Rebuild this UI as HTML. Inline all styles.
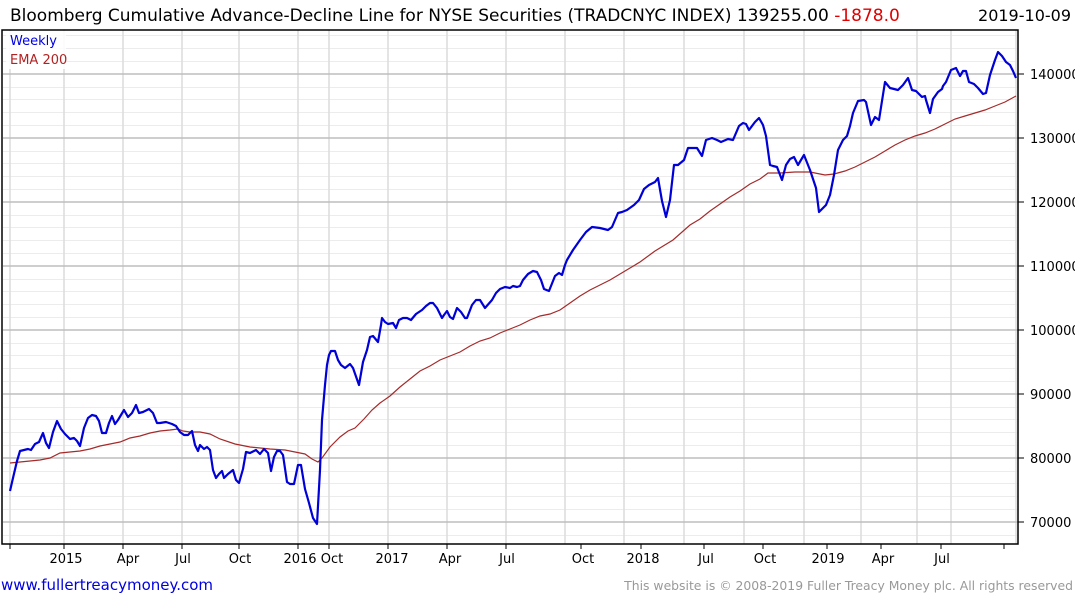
<!DOCTYPE html>
<html><head><meta charset="utf-8"><style>
body{margin:0;background:#fff;width:1075px;height:600px;overflow:hidden;font-family:"DejaVu Sans","Liberation Sans",sans-serif}
</style></head><body>
<svg width="1075" height="600" xmlns="http://www.w3.org/2000/svg" font-family="DejaVu Sans, Liberation Sans, sans-serif">
<rect width="1075" height="600" fill="#fff"/>
<g stroke="#ececec" stroke-width="1">
<path d="M3 48.5H1018M3 61.5H1018M3 87.5H1018M3 99.5H1018M3 112.5H1018M3 125.5H1018M3 151.5H1018M3 163.5H1018M3 176.5H1018M3 189.5H1018M3 215.5H1018M3 227.5H1018M3 240.5H1018M3 253.5H1018M3 279.5H1018M3 291.5H1018M3 304.5H1018M3 317.5H1018M3 343.5H1018M3 355.5H1018M3 368.5H1018M3 381.5H1018M3 407.5H1018M3 419.5H1018M3 432.5H1018M3 445.5H1018M3 471.5H1018M3 483.5H1018M3 496.5H1018M3 509.5H1018M3 535.5H1018M3 35.5H1018"/>
</g>
<g stroke="#dcdcdc" stroke-width="1.5">
<path d="M10 30V544M64 30V544M123 30V544M182 30V544M239 30V544M298 30V544M329 30V544M388 30V544M447 30V544M506 30V544M565 30V544M624 30V544M684 30V544M744 30V544M804 30V544M861 30V544M917 30V544M951 30V544M1016 30V544"/>
</g>
<g stroke="#bdbdbd" stroke-width="1.5">
<path d="M3 74H1018M3 138H1018M3 202H1018M3 266H1018M3 330H1018M3 394H1018M3 458H1018M3 522H1018"/>
</g>
<rect x="2" y="30" width="1016" height="514" fill="none" stroke="#000" stroke-width="1.5"/>
<g stroke="#000" stroke-width="1">
<path d="M10 544v5M64 544v5M123 544v5M182 544v5M239 544v5M298 544v5M329 544v5M388 544v5M447 544v5M506 544v5M581 544v5M641 544v5M704 544v5M763 544v5M827 544v5M881 544v5M941 544v5M1004 544v5"/>
<path d="M1018 74h6M1018 138h6M1018 202h6M1018 266h6M1018 330h6M1018 394h6M1018 458h6M1018 522h6"/>
</g>
<polyline fill="none" stroke="#a52a2a" stroke-width="1.2" points="10,463 20,462 30,461 40,460 50,458 60,453 70,452 80,451 90,449 100,446 110,444 120,442 130,438 140,436 150,433 160,431 170,430 178,429 183,431 190,432 200,432 210,434 220,439 235,444 250,447 270,449 285,450 295,452 305,454 312,459 318,462 322,458 330,447 340,437 348,431 355,428 364,419 372,410 380,403 390,396 400,387 410,379 420,371 430,366 440,360 450,356 460,352 470,346 480,341 490,338 500,333 510,329 520,325 530,320 540,316 550,314 560,310 570,303 580,296 590,290 600,285 610,280 620,274 640,262 655,251 673,240 690,225 700,219 710,211 720,204 730,197 740,191 750,184 760,179 768,173 780,173 795,172 810,172 820,174 825,175 834,174 845,171 855,167 865,162 875,157 885,151 895,145 905,140 915,136 925,133 935,129 945,124 955,119 965,116 975,113 985,110 995,106 1005,102 1016,96"/>
<polyline fill="none" stroke="#0000d8" stroke-width="2.2" stroke-linejoin="round" points="10,491 13,478 17,461 20,451 24,450 28,449 31,450 35,444 39,442 43,433 46,443 49,448 53,432 57,421 61,429 65,434 70,439 74,438 77,441 80,446 84,428 88,418 92,415 96,416 99,421 102,433 106,433 109,423 112,416 115,424 118,420 124,410 128,417 132,413 136,405 139,413 143,412 149,409 153,413 157,423 160,423 166,422 172,424 176,426 180,432 184,435 188,435 192,431 195,445 198,451 200,445 204,449 207,447 210,450 213,470 216,478 219,474 222,471 224,478 228,474 233,470 236,480 239,483 243,469 246,452 250,453 256,450 260,454 264,449 268,453 271,471 274,457 277,451 280,451 283,455 287,482 290,484 294,484 298,465 301,465 305,489 309,503 313,518 317,524 320,470 322,420 325,385 327,365 329,355 331,351 335,351 338,360 341,365 345,368 350,364 353,368 359,385 363,362 367,350 370,337 373,336 378,342 381,325 382,318 385,322 388,324 393,323 396,328 399,320 403,318 407,318 411,320 416,314 422,310 426,306 430,303 433,303 437,308 442,318 444,315 447,311 450,317 453,319 457,308 461,312 465,318 467,318 472,305 476,300 480,300 485,308 492,300 496,293 500,289 505,287 510,288 513,286 517,287 520,286 523,280 528,274 533,271 537,272 541,280 544,289 549,291 555,276 559,273 562,275 565,265 567,260 573,250 580,240 586,232 592,227 600,228 608,230 612,227 618,213 622,212 627,210 634,205 639,200 644,189 649,185 655,182 658,178 662,201 666,217 670,200 674,165 678,165 684,160 688,148 694,148 697,148 702,156 706,140 712,138 717,140 721,142 728,139 733,140 739,126 743,123 746,124 749,130 755,122 759,118 763,125 766,136 770,165 773,166 777,167 782,180 786,165 790,159 794,157 798,165 804,155 810,170 816,188 819,212 826,205 830,195 834,175 838,150 843,140 847,136 850,126 853,113 858,101 864,100 866,102 871,125 875,117 879,120 885,82 890,88 894,89 898,90 903,85 908,78 912,90 916,91 922,97 925,96 926,100 930,113 933,99 938,92 942,89 943,86 946,82 951,70 956,68 960,76 963,71 966,71 969,82 974,84 978,88 983,94 986,93 990,75 995,60 998,52 1002,56 1006,62 1010,65 1013,71 1016,78"/>
<rect x="6" y="31" width="60" height="38" fill="#fff" opacity="0.85"/>
<text x="10" y="45" font-size="13" fill="#0000e0">Weekly</text>
<text x="10" y="64" font-size="13" fill="#b22222">EMA 200</text>
<text x="10" y="21" font-size="17" fill="#000">Bloomberg Cumulative Advance-Decline Line for NYSE Securities (TRADCNYC INDEX) 139255.00 <tspan fill="#e00000">-1878.0</tspan></text>
<text x="1071" y="21" font-size="16" fill="#000" text-anchor="end">2019-10-09</text>
<g font-size="13" fill="#000">
<text x="1030" y="79">140000</text><text x="1030" y="143">130000</text><text x="1030" y="207">120000</text><text x="1030" y="271">110000</text><text x="1030" y="335">100000</text><text x="1030" y="399">90000</text><text x="1030" y="463">80000</text><text x="1030" y="527">70000</text>
</g>
<g font-size="13" fill="#000" text-anchor="middle">
<text x="66" y="563">2015</text><text x="128" y="563">Apr</text><text x="183" y="563">Jul</text><text x="240" y="563">Oct</text><text x="300" y="563">2016</text><text x="332" y="563">Oct</text><text x="392" y="563">2017</text><text x="450" y="563">Apr</text><text x="507" y="563">Jul</text><text x="583" y="563">Oct</text><text x="643" y="563">2018</text><text x="706" y="563">Jul</text><text x="765" y="563">Oct</text><text x="828" y="563">2019</text><text x="883" y="563">Apr</text><text x="942" y="563">Jul</text>
</g>
<text x="1" y="590" font-size="15" fill="#0000e0">www.fullertreacymoney.com</text>
<text x="1073" y="590" font-size="12.4" fill="#999" text-anchor="end">This website is © 2008-2019 Fuller Treacy Money plc. All rights reserved</text>
</svg>
</body></html>
